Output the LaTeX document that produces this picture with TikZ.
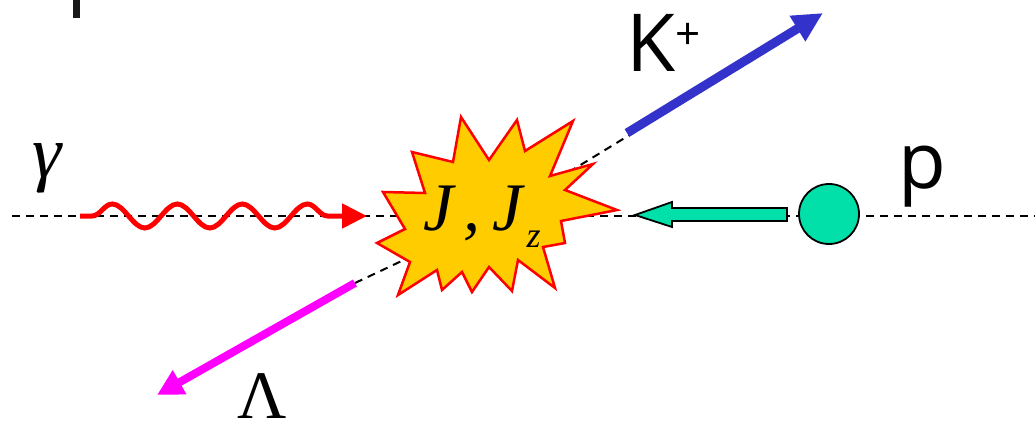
\documentclass[tikz,border=0pt]{standalone}
\usepackage{fontspec}
\setmainfont{Liberation Serif}
\newfontfamily\etiquetaSans{Open Sans}
\usetikzlibrary{arrows.meta, decorations.pathmorphing}

\begin{document}
\begin{tikzpicture}[
    x=1pt, y=-1pt,
    % Linea de referencia (discontinua negra)
    lineaGuia/.style={
        black, line width=2pt, dash pattern=on 8pt off 6pt
    },
    % Foton incidente (onda roja con punta)
    fotonOnda/.style={
        rojoFoton, line width=5pt,
        decorate, decoration={snake, amplitude=12pt, segment length=65pt,
            pre length=12pt, post length=36pt},
        -{Triangle[length=25pt, width=24pt]}
    },
    % Particulas emergentes
    flechaKaon/.style={
        azulKaon, line width=9pt, -{Triangle[length=30pt, width=28pt]}
    },
    flechaLambda/.style={
        magentaLambda, line width=8pt, -{Triangle[length=26pt, width=26pt]}
    },
    % Proton y su flecha de bloque
    bloqueProton/.style={
        fill=verdeProton, draw=black, line width=1.8pt, line join=miter
    },
    % Estrella de la interaccion
    estallido/.style={
        fill=amarilloJ, draw=rojoFoton, line width=2.5pt, line join=miter
    },
    etiquetaSerif/.style={inner sep=0pt, font=\fontsize{68}{68}\selectfont},
    etiquetaPalo/.style={inner sep=0pt, font=\etiquetaSans\fontsize{80}{80}\selectfont}
]
    % --- DEFINICION DE COLORES ---
    \definecolor{azulKaon}{RGB}{51, 51, 204}
    \definecolor{verdeProton}{RGB}{0, 224, 168}
    \definecolor{amarilloJ}{RGB}{255, 204, 0}
    \definecolor{rojoFoton}{RGB}{255, 0, 0}
    \definecolor{magentaLambda}{RGB}{255, 0, 255}

    % --- CONFIGURACION DE PARAMETROS ---
    \def\ejeY{216}
    \def\radioP{30}

    \useasboundingbox (0,0) rectangle (1035,422);

    % 1. Puntos clave
    \coordinate (centro) at (497,\ejeY);
    \coordinate (ejeIni) at (12,\ejeY);
    \coordinate (ejeFin) at (1035,\ejeY);
    \coordinate (gIni) at (80,\ejeY);
    \coordinate (gFin) at (367,\ejeY);
    \coordinate (kIni) at (627,133);
    \coordinate (kFin) at (823,13);
    \coordinate (kGuia) at (785,40);
    \coordinate (lIni) at (355,283);
    \coordinate (lFin) at (157,395);

    % Trazo suelto arriba a la izquierda
    \fill[black!90] (73,0) rectangle (80,18);

    % 2. Lineas guia
    \draw[lineaGuia] (ejeIni) -- (ejeFin);
    \draw[lineaGuia] (centro) -- (kGuia);
    \draw[lineaGuia] (lIni) -- (centro);

    % 3. Estallido J, J_z
    \draw[estallido] (461,117) -- (489,160) -- (517,120) -- (525,151)
        -- (573,121) -- (550,176) -- (593,164) -- (565,190) -- (617,210)
        -- (561,221) -- (565,243) -- (543,247) -- (555,288) -- (518,260)
        -- (512,291) -- (489,267) -- (472,292) -- (462,272) -- (442,290)
        -- (437,270) -- (398,295) -- (410,262) -- (377,243) -- (405,229)
        -- (383,192) -- (425,193) -- (412,152) -- (453,162) -- cycle;
    \node[inner sep=0pt, anchor=base west, font=\fontsize{68}{68}\selectfont\itshape]
        (jEtiq) at (423,230)
        {J\hspace{10pt},\hspace{12pt}J\hspace{4pt}\raisebox{-17pt}{\fontsize{36}{36}\selectfont z}};

    % 4. Foton incidente
    \draw[fotonOnda] (gIni) -- (gFin);
    \node[etiquetaSerif, font=\fontsize{74}{74}\selectfont\itshape] (gammaEtiq) at (47,168) {γ};

    % 5. Kaon y Lambda
    \draw[flechaKaon] (kIni) -- (kFin);
    \node[etiquetaPalo, anchor=base west] (kaonEtiq) at (626,72)
        {K\raisebox{22pt}{\fontsize{44}{44}\selectfont +}};
    \draw[flechaLambda] (lIni) -- (lFin);
    \node[etiquetaSerif, anchor=base] (lambdaEtiq) at (262,418) {Λ};

    % 6. Proton
    \node[bloqueProton, circle, minimum size=2*\radioP pt] (proton) at (829,214) {};
    \draw[bloqueProton] (787,208) -- (672,208) -- (672,202) -- (635,215)
        -- (672,227) -- (672,221) -- (787,221) -- cycle;
    \node[etiquetaPalo, anchor=base west, font=\etiquetaSans\fontsize{78}{78}\selectfont]
        (protonEtiq) at (898,189) {p};

\end{tikzpicture}
\end{document}
